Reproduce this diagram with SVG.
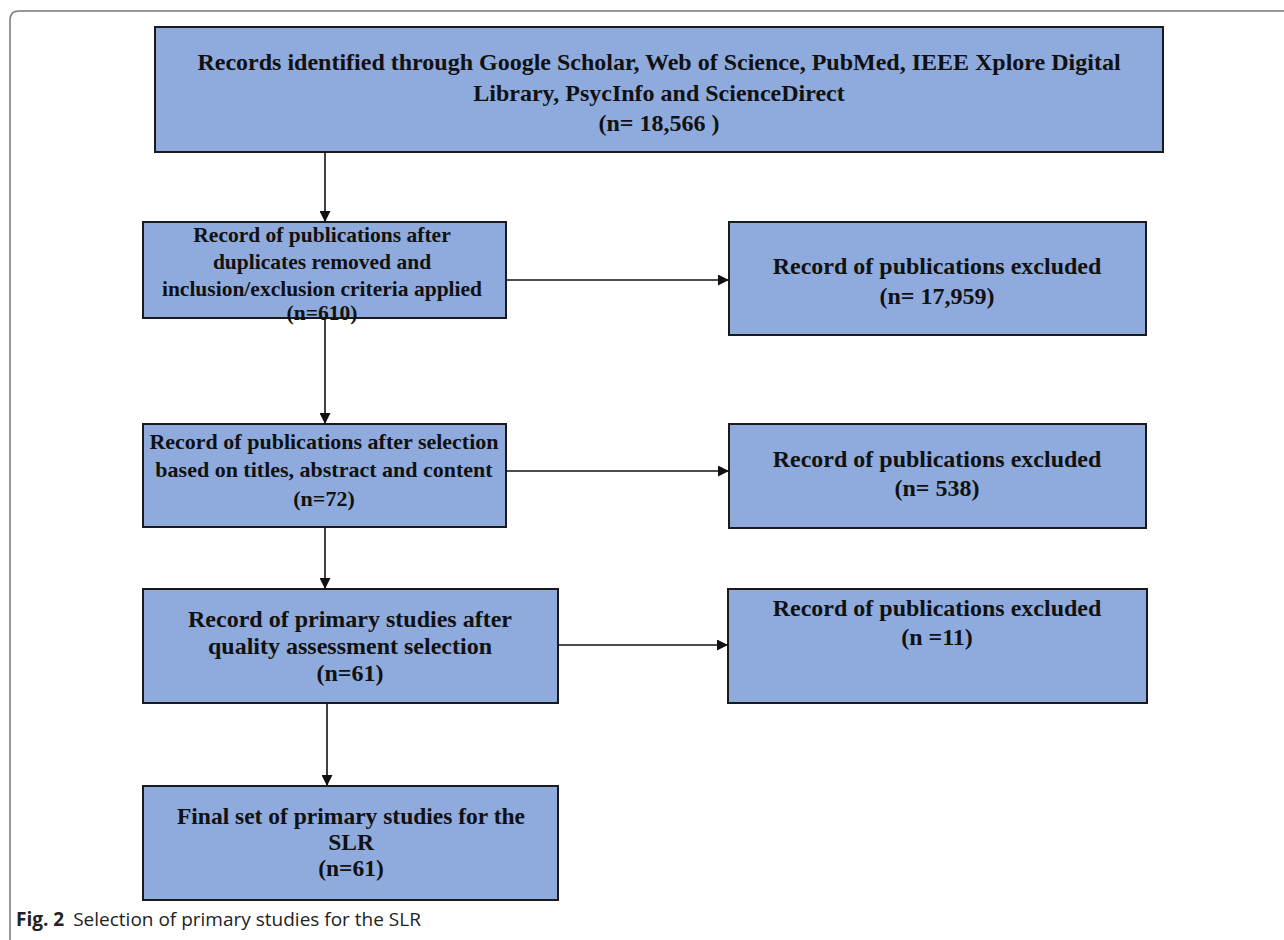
<svg xmlns="http://www.w3.org/2000/svg" width="1284" height="940" viewBox="0 0 1284 940">
<style>
.box{fill:#8faadc;stroke:#1a1a1a;stroke-width:2}
.t{font-family:"Liberation Serif","Times New Roman",serif;font-weight:bold;font-size:24px;fill:#111;text-anchor:middle}
.s{font-size:21.5px}
.m{font-size:22px}
.c{stroke:#111;stroke-width:1.6;fill:none}
.cap{font-family:"Open Sans","Noto Sans",sans-serif;font-size:19px;fill:#222}
</style>
<defs>
<marker id="ah" viewBox="0 0 10 10" refX="10" refY="5" markerWidth="11" markerHeight="11" markerUnits="userSpaceOnUse" orient="auto">
<path d="M0,0 L10,5 L0,10 z" fill="#111"/>
</marker>
</defs>
<path id="frame" d="M1284,11 H19 Q10,11 10,20 V940" fill="none" stroke="#777" stroke-width="1.5"/>
<g id="n1">
<rect class="box" x="155" y="27" width="1008" height="125"/>
<text class="t" x="659" y="70">Records identified through Google Scholar, Web of Science, PubMed, IEEE Xplore Digital</text>
<text class="t" x="659" y="101">Library, PsycInfo and ScienceDirect</text>
<text class="t" x="659" y="131">(n= 18,566 )</text>
</g>
<g id="n2">
<rect class="box" x="143" y="222" width="363" height="96"/>
<text class="t s" x="322" y="242">Record of publications after</text>
<text class="t s" x="322" y="269">duplicates removed and</text>
<text class="t s" x="322" y="296">inclusion/exclusion criteria applied</text>
<text class="t s" x="322" y="320">(n=610)</text>
</g>
<g id="n3">
<rect class="box" x="729" y="222" width="417" height="113"/>
<text class="t" x="937" y="274">Record of publications excluded</text>
<text class="t" x="937" y="304">(n= 17,959)</text>
</g>
<g id="n4">
<rect class="box" x="143" y="424" width="363" height="103"/>
<text class="t m" x="324" y="449">Record of publications after selection</text>
<text class="t m" x="324" y="477">based on titles, abstract and content</text>
<text class="t m" x="324" y="506">(n=72)</text>
</g>
<g id="n5">
<rect class="box" x="729" y="424" width="417" height="104"/>
<text class="t" x="937" y="467">Record of publications excluded</text>
<text class="t" x="937" y="496">(n= 538)</text>
</g>
<g id="n6">
<rect class="box" x="143" y="589" width="415" height="114"/>
<text class="t" x="350" y="627">Record of primary studies after</text>
<text class="t" x="350" y="654">quality assessment selection</text>
<text class="t" x="350" y="681">(n=61)</text>
</g>
<g id="n7">
<rect class="box" x="728" y="589" width="419" height="114"/>
<text class="t" x="937" y="616">Record of publications excluded</text>
<text class="t" x="937" y="645">(n =11)</text>
</g>
<g id="n8">
<rect class="box" x="143" y="786" width="415" height="114"/>
<text class="t" x="351" y="824" style="font-size:23.5px">Final set of primary studies for the</text>
<text class="t" x="351" y="850" style="font-size:23.5px">SLR</text>
<text class="t" x="351" y="876" style="font-size:23.5px">(n=61)</text>
</g>
<g id="connectors">
<line class="c" x1="325" y1="152" x2="325" y2="222" marker-end="url(#ah)"/>
<line class="c" x1="325" y1="318" x2="325" y2="424" marker-end="url(#ah)"/>
<line class="c" x1="325" y1="527" x2="325" y2="589" marker-end="url(#ah)"/>
<line class="c" x1="327" y1="703" x2="327" y2="786" marker-end="url(#ah)"/>
<line class="c" x1="506" y1="280" x2="729" y2="280" marker-end="url(#ah)"/>
<line class="c" x1="506" y1="471" x2="729" y2="471" marker-end="url(#ah)"/>
<line class="c" x1="558" y1="645" x2="728" y2="645" marker-end="url(#ah)"/>
</g>
<text class="cap" x="16" y="926"><tspan font-weight="bold">Fig. 2</tspan><tspan dx="9">Selection of primary studies for the SLR</tspan></text>
</svg>
